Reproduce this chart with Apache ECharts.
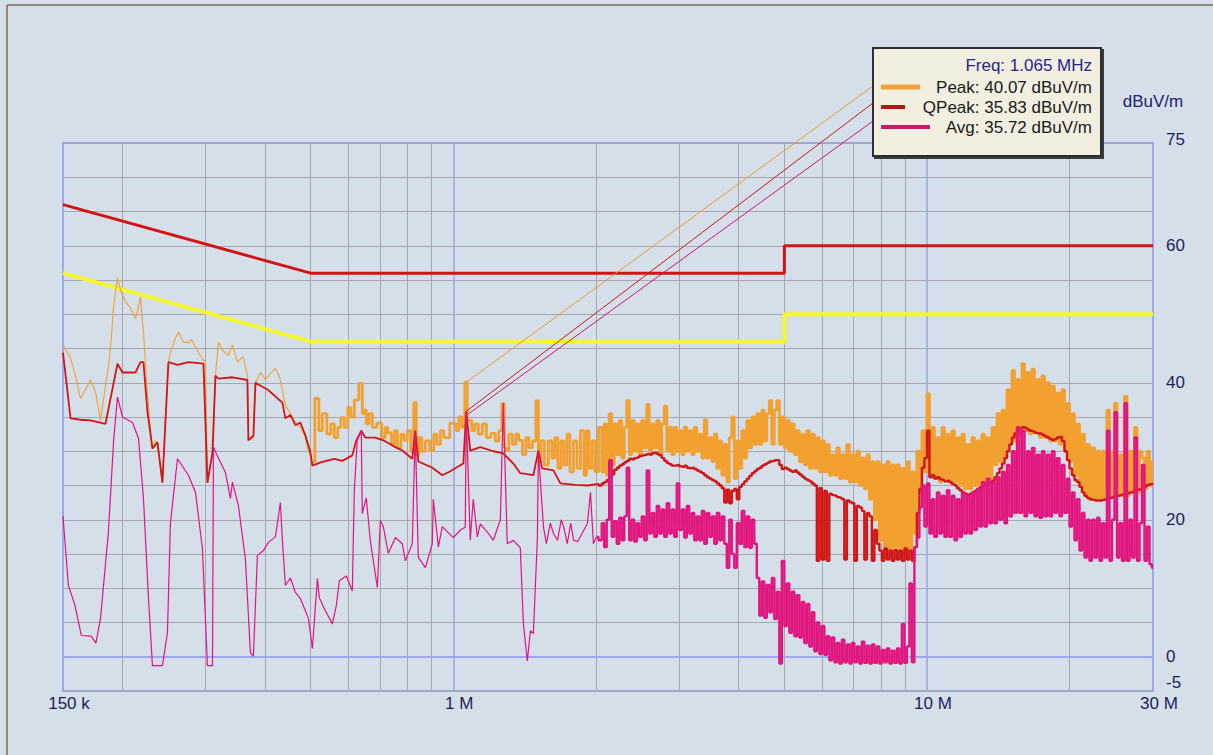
<!DOCTYPE html>
<html>
<head>
<meta charset="utf-8">
<script src="https://cdn.jsdelivr.net/npm/echarts@6/dist/echarts.min.js"></script>
<style>
html,body{margin:0;padding:0;background:#d5dfe9;}
#chart{width:1213px;height:755px;}
</style>
</head>
<body>
<div id="chart"></div>
<script>
// ---------- DATA (frequencies in MHz, levels in dBuV/m) ----------
const xTickValues = [0.15, 1, 10, 30];
const xTickLabels = ['150 k', '1 M', '10 M', '30 M'];
const yTickValues = [-5, 0, 20, 40, 60, 75];
const minorGridFreqs = [0.2, 0.3, 0.4, 0.5, 0.6, 0.7, 0.8, 0.9, 2, 3, 4, 5, 6, 7, 8, 9, 20];
const decadeGridFreqs = [1, 10];

const limitFreq = [0.15, 0.5, 5, 5, 30];
const qpLimit = [66, 56, 56, 60, 60];
const avgLimit = [56, 46, 46, 50, 50];

const cursorFreq = 1.065;
const cursorPeak = 40.07;
const cursorQPeak = 35.83;
const cursorAvg = 35.72;

// low band (0.15 - 2 MHz) – peak detector
const lowPeakFreq = [0.150,0.1556,0.1594,0.1633,0.1674,0.1715,0.1757,0.1780,0.1800,0.1844,
0.1872,0.1900,0.1917,0.1955,0.1984,0.2003,0.2032,0.2083,0.2134,0.2165,
0.2186,0.2200,0.2218,0.2262,0.2295,0.2317,0.2351,0.2374,0.2409,0.2432,
0.2468,0.2504,0.2529,0.2591,0.2629,0.2690,0.2760,0.2800,0.2897,0.2950,
0.2998,0.3027,0.3102,0.3147,0.3193,0.3250,0.3352,0.3418,0.3501,0.3600,
0.3676,0.3694,0.3785,0.3822,0.3916,0.4013,0.4072,0.4212,0.4300,0.4357,
0.4421,0.4530,0.4642,0.4756,0.4873,0.4945,0.5041,0.5166,0.5241,0.5343,
0.5475,0.5555,0.5664,0.5747,0.5831,0.5946,0.6032,0.6121,0.6241,0.6394,
0.6456,0.6519,0.6584,0.6680,0.6811,0.6980,0.7150,0.7220,0.7330,0.7470,
0.7550,0.7690,0.7810,0.7920,0.8070,0.8190,0.8310,0.8400,0.8520,0.8640,
0.8810,0.9030,0.9160,0.9300,0.9480,0.9620,1.005,1.020,1.035,1.050,
1.065,1.075,1.086,1.102,1.118,1.140,1.163,1.186,1.215,1.239,
1.257,1.275,1.288,1.300,1.320,1.346,1.365,1.385,1.413,1.433,
1.455,1.483,1.505,1.520,1.542,1.572,1.603,1.627,1.650,1.675,
1.700,1.725,1.750,1.776,1.811,1.838,1.874,1.901,1.920,1.948,
1.976,2.006];
const lowPeakLevel = [45.5,43.6,41.0,37.7,39.0,40.4,38.6,36.5,34.5,39.5,
42.5,47.0,51.0,55.3,53.5,52.8,51.8,50.9,49.4,51.0,
52.5,50.0,47.4,38.2,33.0,30.4,31.5,31.3,28.0,25.4,
35.0,43.0,44.4,46.5,47.4,46.0,45.8,46.3,44.4,43.5,
43.0,25.4,29.8,41.0,45.9,44.8,44.0,45.5,43.0,43.8,
41.0,31.6,32.0,40.0,41.5,40.5,41.0,42.1,40.8,39.0,
36.7,35.5,34.2,33.5,32.0,30.0,28.4,37.7,33.0,35.5,
32.5,34.0,32.0,33.5,34.9,33.5,36.4,35.0,37.5,39.9,
35.5,36.0,34.0,35.5,33.5,34.1,32.0,33.5,32.7,31.0,
33.0,30.5,32.5,31.6,33.0,30.0,37.1,29.5,32.0,30.0,
31.5,30.1,32.5,31.0,33.0,32.0,34.1,33.0,35.0,33.5,
40.07,34.5,34.5,33.0,34.0,32.5,34.0,32.0,32.6,31.5,
33.0,37.0,30.5,30.1,32.5,31.0,32.5,31.6,29.5,32.0,
30.5,31.5,37.4,28.5,31.5,28.0,31.5,29.0,32.0,27.5,
31.5,28.0,32.5,27.0,31.5,27.5,33.0,26.5,33.0,27.5,
31.5,27.0];

// low band – quasi-peak detector
const lowQpFreq = [0.150,0.1556,0.1633,0.1715,0.1844,0.1890,0.1955,0.2003,0.2134,0.2186,
0.2218,0.2262,0.2317,0.2374,0.2432,0.2504,0.2617,0.2760,0.2969,0.3027,
0.3102,0.3147,0.3193,0.3418,0.3676,0.3694,0.3785,0.3822,0.4072,0.4357,
0.4421,0.4530,0.4642,0.4756,0.4873,0.4993,0.5041,0.5267,0.5609,0.5831,
0.6121,0.6241,0.6394,0.6519,0.6844,0.7117,0.7546,0.7806,0.8193,0.8313,
0.8436,0.9030,0.9480,0.9810,1.050,1.065,1.086,1.140,1.215,1.275,
1.339,1.385,1.476,1.512,1.540,1.627,1.683,1.811,1.920,2.006];
const lowQpLevel = [44.4,34.8,34.6,34.5,34.0,37.7,42.8,41.5,41.5,43.0,
43.0,35.7,30.4,31.3,25.4,43.0,42.6,43.0,42.8,25.4,
29.8,41.0,40.6,40.8,40.4,31.6,32.3,40.0,38.9,37.1,
34.8,35.3,33.8,34.2,32.3,29.8,27.9,28.4,28.9,28.6,
29.4,31.6,33.0,32.0,32.0,31.6,30.6,30.1,28.9,33.0,
28.5,27.6,26.5,27.0,28.2,35.83,30.1,30.6,30.0,29.7,
28.2,26.8,26.5,30.1,27.5,27.2,25.3,25.1,25.0,25.2];

// low band – average detector
const lowAvgFreq = [0.150,0.154,0.159,0.164,0.172,0.176,0.180,0.187,0.192,0.1955,
0.2003,0.2103,0.2165,0.2218,0.2273,0.2317,0.2432,0.2492,0.2529,0.2617,
0.2760,0.2856,0.2954,0.3027,0.3102,0.3117,0.3193,0.3304,0.3385,0.3418,
0.3518,0.3640,0.3730,0.3785,0.3859,0.3974,0.4072,0.4212,0.4315,0.4357,
0.4421,0.4530,0.4642,0.4756,0.4945,0.5041,0.5166,0.5216,0.5343,0.5555,
0.5664,0.5747,0.5946,0.6121,0.6181,0.6271,0.6394,0.6424,0.6550,0.6680,
0.6844,0.6913,0.7014,0.7117,0.7293,0.7546,0.7806,0.7919,0.8193,0.8313,
0.8436,0.8728,0.9030,0.9074,0.9300,0.9480,1.000,1.035,1.060,1.065,
1.086,1.102,1.124,1.140,1.186,1.215,1.257,1.275,1.300,1.339,
1.385,1.406,1.433,1.455,1.476,1.505,1.512,1.550,1.572,1.603,
1.627,1.660,1.690,1.710,1.740,1.770,1.795,1.830,1.883,1.920,
1.948,1.976,2.006];
const lowAvgLevel = [20.5,10.4,7.5,3.1,3.0,2.0,5.6,18.1,31.9,37.9,
35.0,34.2,31.9,23.1,8.5,-1.3,-1.3,3.5,19.6,28.9,
26.5,24.0,15.8,-1.3,-1.3,30.6,29.0,26.9,23.1,25.5,
22.1,14.3,0.6,0.1,14.8,15.5,16.7,17.5,22.5,17.0,
10.4,11.5,9.4,8.5,5.6,1.2,11.4,8.6,7.0,4.8,
7.5,11.1,11.8,9.6,24.3,31.6,33.0,20.9,23.2,17.0,
12.1,10.1,19.9,19.0,15.1,17.4,16.5,14.0,16.5,33.0,
14.5,13.0,16.5,23.0,16.0,19.0,17.4,18.5,18.9,35.72,
17.0,23.0,17.5,19.4,18.0,17.0,20.0,37.0,16.5,17.0,
15.9,4.8,-0.6,3.8,3.4,17.4,30.0,19.0,16.5,19.5,
18.0,17.0,20.0,19.0,16.5,19.5,17.0,16.8,18.4,19.5,
24.0,16.5,17.5];

// high band scan grid (2 - 30 MHz), shared by the three detectors
const scanFreq = [2.045,2.070,2.095,2.121,2.147,2.173,2.200,2.227,2.254,2.282,
2.309,2.338,2.366,2.395,2.425,2.454,2.484,2.515,2.545,2.577,
2.608,2.640,2.672,2.705,2.738,2.772,2.805,2.840,2.874,2.910,
2.945,2.981,3.018,3.055,3.092,3.130,3.168,3.207,3.246,3.286,
3.326,3.367,3.408,3.450,3.492,3.535,3.578,3.622,3.666,3.711,
3.756,3.802,3.848,3.895,3.943,3.991,4.040,4.090,4.140,4.190,
4.241,4.293,4.346,4.399,4.453,4.507,4.562,4.618,4.675,4.732,
4.790,4.849,4.908,4.968,5.029,5.090,5.152,5.215,5.279,5.344,
5.409,5.475,5.542,5.610,5.679,5.748,5.818,5.890,5.962,6.035,
6.108,6.183,6.259,6.335,6.413,6.491,6.571,6.651,6.732,6.815,
6.898,6.982,7.068,7.154,7.242,7.330,7.420,7.511,7.603,7.696,
7.790,7.885,7.982,8.079,8.178,8.278,8.380,8.482,8.586,8.691,
8.797,8.905,9.014,9.124,9.236,9.349,9.463,9.579,9.696,9.815,
9.935,10.06,10.18,10.30,10.43,10.56,10.69,10.82,10.95,11.08,
11.22,11.36,11.50,11.64,11.78,11.92,12.07,12.22,12.37,12.52,
12.67,12.83,12.98,13.14,13.30,13.47,13.63,13.80,13.97,14.14,
14.31,14.49,14.66,14.84,15.02,15.21,15.39,15.58,15.77,15.97,
16.16,16.36,16.56,16.76,16.96,17.17,17.38,17.59,17.81,18.03,
18.25,18.47,18.70,18.92,19.16,19.39,19.63,19.87,20.11,20.36,
20.60,20.86,21.11,21.37,21.63,21.90,22.16,22.44,22.71,22.99,
23.27,23.55,23.84,24.13,24.43,24.73,25.03,25.34,25.65,25.96,
26.28,26.60,26.92,27.25,27.59,27.92,28.27,28.61,28.96,29.32,
29.68,30.00];
const scanPeak = [33.5,27.0,34.0,26.5,35.5,28.0,34.0,29.5,34.5,29.0,
33.5,37.4,29.5,34.5,30.0,34.0,29.5,34.5,30.5,36.8,
30.0,34.0,30.5,34.5,29.5,34.0,36.6,30.0,33.5,29.5,
33.5,30.0,33.0,29.5,33.5,30.0,33.0,29.5,33.5,30.0,
32.5,29.0,34.6,29.0,32.0,28.5,32.5,27.5,31.5,26.5,
31.0,25.5,32.0,35.0,26.0,31.5,27.5,33.0,29.0,34.5,
30.5,35.0,31.0,35.5,31.0,36.0,31.5,35.5,37.4,31.0,
36.0,37.4,31.0,35.0,30.5,34.5,30.0,34.0,29.5,33.0,
28.5,32.5,28.0,33.0,27.5,32.5,27.5,32.0,27.0,31.5,
27.0,31.0,26.5,29.5,26.5,30.5,26.0,29.5,26.0,31.0,
25.5,29.5,25.5,30.0,25.0,29.0,24.5,29.5,23.0,28.5,
20.0,28.5,17.0,28.0,16.0,28.5,15.5,28.0,16.0,28.0,
15.5,27.5,16.0,28.5,15.5,27.0,18.0,30.0,24.0,33.0,
27.0,38.4,26.5,33.5,26.0,32.0,25.5,33.5,26.0,32.5,
25.5,33.0,25.5,32.0,25.0,32.5,24.5,31.0,24.5,32.0,
25.0,31.5,25.0,32.5,25.5,32.0,26.0,33.5,28.0,35.5,
28.5,36.0,29.0,39.0,31.0,41.8,31.5,40.5,32.5,42.8,
33.0,41.5,32.5,42.0,33.0,40.5,32.0,41.0,32.0,40.0,
31.5,39.5,31.5,38.5,31.0,39.0,30.0,37.0,28.5,35.5,
26.5,34.0,25.0,32.5,23.5,31.0,23.0,30.5,23.0,30.0,
23.0,30.0,23.0,36.0,23.5,30.0,37.0,23.5,29.5,23.5,
38.0,23.5,30.0,24.0,33.5,24.0,30.0,29.0,24.5,30.0,
25.0,28.5];
const scanQPeak = [25.0,25.3,25.5,25.8,26.0,26.6,27.3,27.6,27.9,28.1,
28.4,28.6,28.9,28.8,29.0,29.1,29.3,29.4,29.5,29.6,
29.5,29.7,29.8,29.6,29.4,29.0,28.6,28.3,28.1,27.9,
27.9,28.0,27.8,27.7,27.9,27.6,27.5,27.6,27.4,27.2,
27.0,26.8,26.5,26.2,26.0,25.8,25.6,25.3,25.0,24.6,
22.5,24.4,22.4,24.2,24.5,23.0,24.8,25.2,25.6,26.0,
26.4,26.8,27.1,27.4,27.6,27.9,28.1,28.3,28.5,28.6,
28.7,28.7,28.0,27.4,27.6,27.4,27.2,27.0,27.2,26.9,
26.6,26.3,26.0,25.8,25.6,25.3,25.0,14.0,24.6,14.2,
24.2,14.0,23.8,23.6,23.5,23.3,23.2,23.0,14.2,22.8,
22.6,22.4,14.0,22.0,21.8,21.3,14.2,21.0,20.5,14.0,
18.5,16.5,15.5,14.0,15.8,14.2,15.5,14.0,15.6,14.2,
15.5,14.0,15.8,14.2,15.5,14.0,16.0,21.0,24.5,27.6,
29.0,33.0,26.2,26.5,26.0,26.2,25.9,25.8,25.6,25.7,
25.5,25.2,25.0,24.6,24.3,24.0,23.8,23.6,23.8,24.0,
24.2,24.5,24.7,24.9,25.1,25.3,25.5,25.7,26.2,26.8,
27.5,28.2,29.0,30.0,31.0,32.0,32.6,33.0,33.3,33.5,
33.4,33.2,33.0,32.9,32.7,32.6,32.6,32.4,32.2,32.0,
31.8,31.6,31.8,32.0,32.1,31.5,30.0,28.7,27.5,26.5,
25.8,25.5,24.8,24.0,23.5,23.2,23.0,22.9,22.8,22.8,
22.8,22.9,23.0,23.1,23.2,23.3,23.4,23.5,23.6,23.7,
23.8,23.9,24.0,24.1,24.3,24.4,24.5,24.7,24.9,25.1,
25.2,25.3];
const scanAvg = [17.0,19.5,16.0,20.0,28.7,17.5,19.8,16.5,20.3,17.0,
20.5,27.6,17.0,20.0,16.8,19.5,17.5,20.5,17.0,27.2,
18.0,21.0,17.5,22.0,18.0,21.5,17.5,22.4,18.0,21.5,
17.5,25.3,18.5,21.5,17.4,22.0,18.0,21.0,17.0,20.5,
17.0,21.3,16.5,21.0,17.5,20.5,16.5,21.0,17.0,20.5,
16.5,13.0,20.0,15.0,13.0,19.5,16.5,21.3,16.0,20.5,
15.9,20.0,16.5,11.5,6.0,11.0,5.7,10.5,6.5,11.5,
5.5,9.5,-1.0,14.0,4.5,10.7,3.5,9.5,3.0,9.0,
2.8,8.0,2.0,7.7,1.5,6.5,0.8,5.0,0.4,4.5,
0.3,3.0,-0.5,2.8,-0.8,2.0,-1.0,2.5,-0.8,1.8,
-1.0,2.0,-0.8,1.5,-1.0,2.2,-0.9,1.6,-1.0,1.8,
-0.9,1.5,-1.0,1.0,-0.8,1.2,-1.0,0.9,-0.9,1.2,
-1.0,4.8,-0.9,1.5,10.7,-0.8,16.0,17.4,21.8,25.0,
19.0,25.3,18.0,23.0,17.5,24.0,18.0,23.5,17.5,24.3,
17.5,23.5,17.0,23.0,17.5,24.0,18.0,23.5,18.0,24.0,
18.5,24.5,19.0,25.5,19.0,26.0,19.5,25.5,19.5,26.2,
20.0,27.0,19.5,28.0,20.5,30.0,21.0,33.5,21.0,33.0,
20.5,30.0,21.0,30.5,20.5,29.5,20.3,30.0,20.5,29.5,
20.5,30.0,21.0,29.0,20.5,28.0,21.0,26.0,19.0,24.0,
17.0,23.0,15.5,21.0,14.5,20.0,14.0,20.0,14.5,20.3,
14.0,19.5,14.5,33.0,14.0,20.0,35.7,14.5,19.5,14.0,
37.0,14.0,20.0,14.5,32.0,14.0,19.5,28.0,14.0,19.0,
13.5,13.0];

// ---------- BUILD ----------
function zip(f, v) { return f.map((x, i) => [x, v[i]]); }
const peakAll = zip(lowPeakFreq.concat(scanFreq), lowPeakLevel.concat(scanPeak));
const qpAll = zip(lowQpFreq.concat(scanFreq), lowQpLevel.concat(scanQPeak));
const avgAll = zip(lowAvgFreq.concat(scanFreq), lowAvgLevel.concat(scanAvg));
// swept (dense) part is drawn as vertical strokes, the slow part as a plain line
const peakSplit = lowPeakFreq.findIndex(f => f > 0.5);
const qpSplit = lowQpFreq.length - 1;
const avgSplit = lowAvgFreq.length - 1;

const FONT = "'Liberation Sans', Arial, sans-serif";
const LABEL_COLOR = '#1e1e58';
const PEAK_COLOR = '#f2a030', QP_COLOR = '#d21616', AVG_COLOR = '#e2157f';
const chart = echarts.init(document.getElementById('chart'), null, {renderer: 'svg'});

const gridLines = minorGridFreqs.map(f => ({xAxis: f, lineStyle: {color: '#a5a7ad', width: 1, type: 'solid'}}))
  .concat(decadeGridFreqs.map(f => ({xAxis: f, lineStyle: {color: '#9aa4e6', width: 1.5, type: 'solid'}})));

function trace(name, data, color, width, z, step) {
  return {name: name, type: 'line', data: data, showSymbol: false, z: z, step: step || false,
          lineStyle: {color: color, width: width}, emphasis: {disabled: true}};
}

const option = {
  animation: false,
  backgroundColor: '#d5dfe9',
  grid: {left: 63, right: 60, top: 143, bottom: 64, show: true, borderColor: '#9ea7ee', borderWidth: 2, backgroundColor: 'transparent'},
  xAxis: {
    type: 'log', logBase: 10, min: 0.15, max: 30,
    axisLine: {show: true, lineStyle: {color: '#9ea7ee', width: 2}},
    axisTick: {show: false},
    splitLine: {show: false},
    minorSplitLine: {show: false},
    axisLabel: {
      customValues: xTickValues,
      formatter: v => { const i = xTickValues.findIndex(t => Math.abs(t - v) / t < 1e-6); return i >= 0 ? xTickLabels[i] : ''; },
      color: LABEL_COLOR, fontFamily: FONT, fontSize: 17, margin: 4, padding: [0, 0, 0, 12]
    }
  },
  yAxis: {
    type: 'value', position: 'right', min: -5, max: 75, interval: 5,
    name: 'dBuV/m', nameLocation: 'end', nameGap: 33,
    nameTextStyle: {color: '#22226e', fontFamily: FONT, fontSize: 17},
    axisLine: {show: true, lineStyle: {color: '#9ea7ee', width: 2}},
    axisTick: {show: false},
    splitLine: {show: true, lineStyle: {color: '#a5a8b0', width: 1}},
    axisLabel: {
      customValues: yTickValues,
      formatter: v => v === -5 ? '{lo|-5}' : (v === 75 ? '{hi|75}' : String(v)),
      rich: {
        lo: {color: LABEL_COLOR, fontFamily: FONT, fontSize: 17, padding: [0, 0, 18, 0]},
        hi: {color: LABEL_COLOR, fontFamily: FONT, fontSize: 17, padding: [0, 0, 8, 0]}
      },
      color: LABEL_COLOR, fontFamily: FONT, fontSize: 17, margin: 13
    }
  },
  series: [
    {name: 'grid', type: 'line', data: [], z: 1, silent: true,
     markLine: {z: 1, silent: true, symbol: ['none', 'none'], label: {show: false}, animation: false, data: gridLines}},
    trace('Avg limit', zip(limitFreq, avgLimit), '#f6f62e', 4, 2),
    trace('QP limit', zip(limitFreq, qpLimit), '#d41414', 3, 2),
    trace('Peak', peakAll.slice(0, peakSplit + 1), PEAK_COLOR, 1.1, 3),
    trace('Peak', peakAll.slice(peakSplit), PEAK_COLOR, 2.8, 3, 'middle'),
    trace('QPeak', qpAll.slice(0, qpSplit + 1), QP_COLOR, 1.8, 4),
    trace('QPeak', qpAll.slice(qpSplit), QP_COLOR, 2.4, 4, 'middle'),
    trace('Avg', avgAll.slice(0, avgSplit + 1), AVG_COLOR, 1.2, 5),
    trace('Avg', avgAll.slice(avgSplit), AVG_COLOR, 2.4, 5, 'middle')
  ]
};
chart.setOption(option);

// cursor read-out box and leader lines
const pPeak = chart.convertToPixel({xAxisIndex: 0, yAxisIndex: 0}, [cursorFreq, cursorPeak]);
const pQp = chart.convertToPixel({xAxisIndex: 0, yAxisIndex: 0}, [cursorFreq, cursorQPeak]);
const pAvg = chart.convertToPixel({xAxisIndex: 0, yAxisIndex: 0}, [cursorFreq, cursorAvg]);
const boxX = 873, boxY = 48, boxW = 228, boxH = 108, textRight = 1092;
chart.setOption({
  graphic: [
    {type: 'line', shape: {x1: 7, y1: 5, x2: 7, y2: 755}, style: {stroke: '#8c897e', lineWidth: 2}, z: 10},
    {type: 'line', shape: {x1: 7, y1: 5, x2: 1213, y2: 5}, style: {stroke: '#8c897e', lineWidth: 2}, z: 10},
    {type: 'line', shape: {x1: pPeak[0], y1: pPeak[1], x2: boxX, y2: boxY + 38}, style: {stroke: '#e89a30', lineWidth: 1}, z: 20},
    {type: 'line', shape: {x1: pQp[0], y1: pQp[1], x2: boxX, y2: boxY + 55}, style: {stroke: '#c81818', lineWidth: 1}, z: 20},
    {type: 'line', shape: {x1: pAvg[0] + 2, y1: pAvg[1] + 2, x2: boxX, y2: boxY + 73}, style: {stroke: '#c81870', lineWidth: 1}, z: 20},
    {type: 'rect', shape: {x: boxX, y: boxY, width: boxW, height: boxH},
     style: {fill: '#f2eee0', stroke: '#2e2e2e', lineWidth: 2, shadowColor: '#3a3a3a', shadowOffsetX: 2, shadowOffsetY: 2, shadowBlur: 0}, z: 30},
    {type: 'text', x: textRight, y: boxY + 17, z: 31,
     style: {text: 'Freq: ' + cursorFreq.toFixed(3) + ' MHz', fill: '#25258c', font: '17px ' + FONT, textAlign: 'right', textVerticalAlign: 'middle'}},
    {type: 'line', shape: {x1: boxX + 8, y1: boxY + 39, x2: boxX + 47, y2: boxY + 39}, style: {stroke: '#f0a23c', lineWidth: 5}, z: 31},
    {type: 'text', x: textRight, y: boxY + 39, z: 31,
     style: {text: 'Peak: ' + cursorPeak.toFixed(2) + ' dBuV/m', fill: '#1a1a1a', font: '17px ' + FONT, textAlign: 'right', textVerticalAlign: 'middle'}},
    {type: 'line', shape: {x1: boxX + 8, y1: boxY + 59, x2: boxX + 32, y2: boxY + 59}, style: {stroke: '#b81414', lineWidth: 4}, z: 31},
    {type: 'text', x: textRight, y: boxY + 59, z: 31,
     style: {text: 'QPeak: ' + cursorQPeak.toFixed(2) + ' dBuV/m', fill: '#1a1a1a', font: '17px ' + FONT, textAlign: 'right', textVerticalAlign: 'middle'}},
    {type: 'line', shape: {x1: boxX + 8, y1: boxY + 79, x2: boxX + 57, y2: boxY + 79}, style: {stroke: '#c41a6e', lineWidth: 4}, z: 31},
    {type: 'text', x: textRight, y: boxY + 79, z: 31,
     style: {text: 'Avg: ' + cursorAvg.toFixed(2) + ' dBuV/m', fill: '#1a1a1a', font: '17px ' + FONT, textAlign: 'right', textVerticalAlign: 'middle'}}
  ]
});
</script>
</body>
</html>
